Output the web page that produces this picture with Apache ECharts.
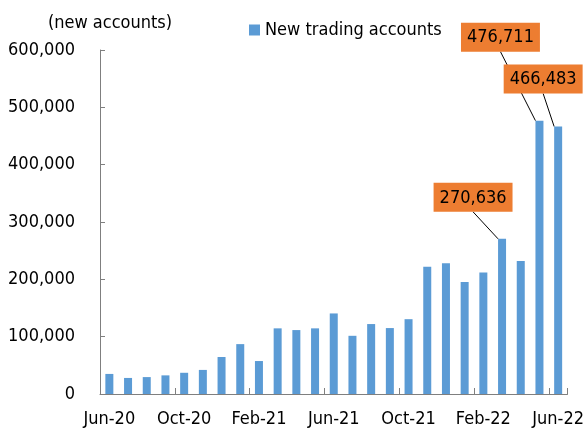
<!DOCTYPE html>
<html>
<head>
<meta charset="utf-8">
<script src="https://cdn.jsdelivr.net/npm/echarts@6/dist/echarts.min.js"></script>
<style>
	html, body { margin: 0; padding: 0; background: #fff; }
	#chart { width: 587px; height: 428px; }
</style>
</head>
<body>
<div id="chart"></div>
<script>
var months = ['Jun-20', 'Jul-20', 'Aug-20', 'Sep-20', 'Oct-20', 'Nov-20', 'Dec-20',
	'Jan-21', 'Feb-21', 'Mar-21', 'Apr-21', 'May-21', 'Jun-21', 'Jul-21', 'Aug-21', 'Sep-21',
	'Oct-21', 'Nov-21', 'Dec-21', 'Jan-22', 'Feb-22', 'Mar-22', 'Apr-22', 'May-22', 'Jun-22'];
var newAccounts = [35000, 28000, 29500, 32500, 37000, 42000, 64500, 87000, 57500, 114500,
	111500, 114500, 140500, 101500, 122000, 115000, 130500, 222000, 228000, 195500,
	212000, 270636, 232000, 476711, 466483];
var yTicks = [0, 100000, 200000, 300000, 400000, 500000, 600000];
// callouts: which bars get an orange label
var calloutIdx = [21, 23, 24];

var font = '"DejaVu Sans Condensed", "DejaVu Sans", sans-serif';

var fmt = function(v){
	return String(v).replace(/\B(?=(\d{3})+(?!\d))/g, ',');
};

var barData = newAccounts.map(function(v, i){
	if (calloutIdx.indexOf(i) >= 0) {
		return {value: v, label: {show: true}};
	}
	return v;
});

// label offsets from their default spot above the bar
var labelShift = {
	21: {dx: -29, dy: -22},
	23: {dx: -39, dy: -64},
	24: {dx: -15, dy: -28}
};

var myChart = echarts.init(document.getElementById('chart'));
var option = {
	animation: false,
	textStyle: {fontFamily: font},
	grid: {left: 100, right: 18, top: 50, bottom: 33, containLabel: false},
	legend: {
		data: ['New trading accounts'],
		left: 244,
		top: 16,
		icon: 'rect',
		itemWidth: 11,
		itemHeight: 11,
		itemGap: 4,
		textStyle: {fontSize: 18, color: '#000', fontFamily: font}
	},
	xAxis: {
		type: 'category',
		data: months,
		axisLine: {lineStyle: {color: '#7f7f7f', width: 1}},
		axisTick: {show: true, inside: true, length: 6, interval: 3, lineStyle: {color: '#7f7f7f'}},
		axisLabel: {interval: 3, fontSize: 18, color: '#000', margin: 16, fontFamily: font}
	},
	yAxis: {
		type: 'value',
		min: yTicks[0],
		max: yTicks[yTicks.length - 1],
		interval: 100000,
		name: '(new accounts)',
		nameLocation: 'end',
		nameGap: 18,
		nameTextStyle: {fontSize: 18, color: '#000', fontFamily: font, padding: [0, 0, 0, 20]},
		splitLine: {show: false},
		axisLine: {show: true, lineStyle: {color: '#7f7f7f', width: 1}},
		axisTick: {show: true, inside: true, length: 5, lineStyle: {color: '#7f7f7f'}},
		axisLabel: {fontSize: 18, color: '#000', margin: 25, fontFamily: font, formatter: fmt}
	},
	series: [{
		name: 'New trading accounts',
		type: 'bar',
		data: barData,
		barWidth: 8,
		itemStyle: {color: '#5b9bd5'},
		label: {
			show: false,
			position: 'top',
			distance: 5,
			formatter: function(p){ return fmt(p.value); },
			backgroundColor: '#ed7d31',
			color: '#000',
			fontSize: 18,
			fontFamily: font,
			padding: [6, 6, 5, 6]
		},
		labelLine: {show: true, lineStyle: {color: '#000', width: 1}},
		labelLayout: function(p){
			var s = labelShift[p.dataIndex];
			return s ? {dx: s.dx, dy: s.dy} : {};
		}
	}]
};
myChart.setOption(option);
</script>
</body>
</html>
